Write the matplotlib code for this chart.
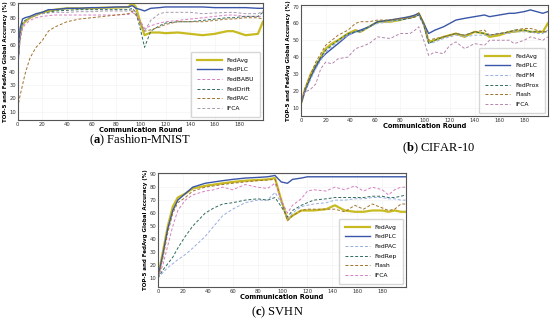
import matplotlib
matplotlib.use("Agg")
import matplotlib.pyplot as plt

plt.rcParams['font.family'] = ['DejaVu Sans']
plt.rcParams['mathtext.fontset'] = 'custom'
plt.rcParams['mathtext.rm'] = 'Liberation Serif'
plt.rcParams['mathtext.bf'] = 'Liberation Serif:bold'

# ---------------- (a) Fashion-MNIST ----------------
rounds_a = [0, 2, 4, 6, 10, 15, 20, 25, 30, 40, 50, 60, 70, 80, 90, 93, 96, 100, 103, 108,
            115, 120, 130, 140, 150, 160, 170, 175, 185, 195, 199]
fm_fedavg = [50, 68, 75, 77, 80, 82, 84, 85, 86, 87, 87, 87, 87.5, 87.5, 88, 91, 88, 75, 67, 69,
             69, 68.5, 69, 68, 67, 68, 70, 70, 67, 68, 77]
fm_fedplc = [40, 72, 79, 80, 81, 83, 84, 86, 86, 87, 87, 87.5, 87.5, 88, 88, 89, 87, 86, 85, 87,
             87.5, 88, 88, 88, 88, 87.5, 87.5, 87.5, 87.5, 87, 87]
fm_fedbabu = [45, 62, 72, 75, 78, 80, 81, 81.5, 82, 82, 82, 82, 82, 82, 82.5, 84, 82, 77, 72, 74,
              76, 77, 78, 79, 80, 81, 82, 82, 81, 81, 81]
fm_feddrift = [42, 66, 76, 78, 80, 82, 83, 84, 85, 85.5, 86, 86, 86, 86, 86, 87, 84, 70, 58, 70,
               74, 76, 77, 77, 78, 79, 80, 80, 81, 81, 84]
fm_fedpac = [13, 22, 30, 38, 50, 58, 63, 70, 73, 77, 79, 80, 81, 82, 83, 85, 82, 75, 70, 71,
             73, 75, 77, 77, 77, 78, 79, 79, 80, 80, 79]
fm_ifca = [45, 66, 74, 77, 80, 82, 83, 83.5, 84, 84, 84.5, 84.5, 85, 85, 85, 86, 84, 76, 70, 78,
           83, 84, 84, 84, 83, 83.5, 84, 84, 83, 83, 85]

# ---------------- (b) CIFAR-10 ----------------
rounds_b = [0, 3, 8, 12, 16, 20, 25, 30, 38, 44, 48, 55, 62, 72, 80, 88, 92, 95, 99, 103, 108,
            115, 120, 125, 132, 140, 148, 152, 160, 168, 172, 180, 185, 190, 195, 199]
c10_fedavg = [12, 20, 30, 35, 40, 45, 48, 50, 54, 56, 55, 58, 61, 61, 62, 64, 64, 66, 60, 49, 50,
              52, 53, 54, 52, 55, 54, 52, 53, 55, 55, 56, 55, 55, 55, 60]
c10_fedplc = [12, 19, 28, 34, 39, 42, 45, 48, 53, 55, 56, 58, 61, 62, 63, 64, 65, 66, 60, 54, 56,
              58, 60, 62, 63, 64, 65, 64, 65, 66, 66, 67, 68, 67, 66, 67]
c10_fedfm = [12, 19, 27, 33, 38, 43, 46, 49, 53, 55, 55, 58, 60, 61, 62, 63, 64, 65, 59, 48, 49,
             51, 52, 53, 52, 53, 53, 53, 54, 54, 55, 55, 55, 54, 54, 56]
c10_fedprox = [12, 20, 29, 35, 40, 44, 47, 50, 54, 55, 55, 58, 61, 62, 62, 63, 64, 65, 59, 48, 50,
               52, 53, 54, 53, 55, 54, 53, 54, 55, 56, 56, 55, 55, 55, 55]
c10_flash = [12, 21, 30, 37, 42, 47, 50, 53, 56, 60, 61, 61, 62, 62, 63, 63, 64, 66, 60, 50, 51,
             52, 53, 54, 53, 55, 56, 53, 54, 55, 56, 57, 57, 56, 55, 55]
c10_ifca = [15, 19, 21, 24, 33, 37, 36, 39, 40, 45, 46, 48, 52, 51, 54, 54, 56, 58, 50, 41, 43,
            42, 47, 49, 45, 48, 47, 50, 50, 50, 48, 50, 52, 51, 50, 52]

# ---------------- (c) SVHN ----------------
rounds_c = [0, 4, 8, 12, 16, 22, 28, 38, 45, 52, 60, 70, 80, 88, 94, 99, 104, 108, 115, 120,
            125, 135, 142, 150, 158, 165, 172, 180, 185, 190, 195, 199]
sv_fedavg = [10, 30, 50, 65, 72, 75, 79, 81, 82, 83, 84, 85, 85.5, 86, 87, 70, 55, 58, 62, 62,
             62, 63, 66, 62, 61, 61, 62, 62, 61, 62, 61, 61]
sv_fedplc = [10, 28, 48, 62, 70, 75, 80, 83, 84, 85, 86, 87, 87.5, 88, 89, 84, 83, 86, 87, 88,
             88, 88, 88, 88, 88, 88, 88, 88, 88, 88, 88, 88]
sv_fedpac = [10, 14, 18, 21, 24, 28, 33, 42, 50, 58, 63, 68, 70, 70, 76, 68, 55, 60, 65, 66,
             67, 68, 70, 70, 71, 71, 72, 72, 71, 71, 70, 70]
sv_fedrep = [10, 16, 21, 26, 33, 42, 50, 60, 64, 67, 68, 70, 71, 70, 72, 65, 57, 62, 66, 68,
             70, 71, 72, 72, 72, 72, 73, 73, 72, 72, 73, 74]
sv_flash = [10, 25, 45, 60, 68, 72, 77, 80, 81, 82, 83, 84, 85, 85.5, 86, 70, 54, 58, 62, 63,
            63, 63, 63, 61, 66, 63, 67, 64, 62, 63, 67, 67]
sv_ifca = [10, 20, 35, 50, 62, 70, 74, 77, 78, 80, 78, 82, 80, 79, 83, 70, 60, 66, 71, 77,
           78, 77, 80, 78, 81, 77, 80, 78, 74, 78, 80, 80]

YELLOW = '#c8bb22'
BLUE = '#3a56a8'
PINK = '#d67fc4'
TEAL = '#2f6b5e'
BROWN = '#a0722a'
GREY = '#a89bb0'
LIGHTBLUE = '#97aee0'
MAUVE = '#b585ae'
DASH = (0, (3, 2))


def style_axes(ax, ylim, yticks):
    ax.set_xlim(0, 199)
    ax.set_ylim(*ylim)
    ax.set_xticks(range(0, 200, 20))
    ax.set_yticks(yticks)
    ax.tick_params(labelsize=3.8, length=0, pad=1.2, colors='#333333')
    ax.grid(True, color='#f2f2f2', linewidth=0.4)
    for s in ax.spines.values():
        s.set_color('#555555')
        s.set_linewidth(0.8)
    ax.set_xlabel('Communication Round', fontsize=4.8, fontweight='bold', labelpad=0.3)
    ax.set_ylabel('TOP-5 and FedAvg Global Accuracy (%)', fontsize=4.0,
                  fontweight='bold', labelpad=1.0)
    ax.legend(loc='lower right', fontsize=4.3, handlelength=4.2, labelspacing=0.75,
              borderpad=1.0, handletextpad=0.8, frameon=True, edgecolor='#cccccc',
              fancybox=True, borderaxespad=0.5)


fig = plt.figure(figsize=(5.5, 3.25), dpi=100)

ax_a = fig.add_axes([0.032, 0.631, 0.446, 0.36])
ax_a.plot(rounds_a, fm_fedavg, color=YELLOW, lw=1.6, label='FedAvg')
ax_a.plot(rounds_a, fm_fedplc, color=BLUE, lw=1.0, label='FedPLC')
ax_a.plot(rounds_a, fm_fedbabu, color=PINK, lw=0.7, ls=DASH, label='FedBABU')
ax_a.plot(rounds_a, fm_feddrift, color=TEAL, lw=0.7, ls=DASH, label='FedDrift')
ax_a.plot(rounds_a, fm_fedpac, color=BROWN, lw=0.7, ls=DASH, label='FedPAC')
ax_a.plot(rounds_a, fm_ifca, color=GREY, lw=0.7, ls=DASH, label='IFCA')
style_axes(ax_a, (4, 91), range(10, 91, 10))

ax_b = fig.add_axes([0.547, 0.643, 0.449, 0.342])
ax_b.plot(rounds_b, c10_fedavg, color=YELLOW, lw=1.6, label='FedAvg')
ax_b.plot(rounds_b, c10_fedplc, color=BLUE, lw=1.0, label='FedPLC')
ax_b.plot(rounds_b, c10_fedfm, color=LIGHTBLUE, lw=0.7, ls=DASH, label='FedFM')
ax_b.plot(rounds_b, c10_fedprox, color=TEAL, lw=0.7, ls=DASH, label='FedProx')
ax_b.plot(rounds_b, c10_flash, color=BROWN, lw=0.7, ls=DASH, label='Flash')
ax_b.plot(rounds_b, c10_ifca, color=MAUVE, lw=0.7, ls=DASH, label='IFCA')
style_axes(ax_b, (5, 71), range(10, 71, 10))

ax_c = fig.add_axes([0.287, 0.117, 0.451, 0.351])
ax_c.plot(rounds_c, sv_fedavg, color=YELLOW, lw=1.6, label='FedAvg')
ax_c.plot(rounds_c, sv_fedplc, color=BLUE, lw=1.0, label='FedPLC')
ax_c.plot(rounds_c, sv_fedpac, color=LIGHTBLUE, lw=0.7, ls=DASH, label='FedPAC')
ax_c.plot(rounds_c, sv_fedrep, color=TEAL, lw=0.7, ls=DASH, label='FedRep')
ax_c.plot(rounds_c, sv_flash, color=BROWN, lw=0.7, ls=DASH, label='Flash')
ax_c.plot(rounds_c, sv_ifca, color=PINK, lw=0.7, ls=DASH, label='IFCA')
style_axes(ax_c, (3, 91), range(10, 91, 10))

cap = dict(fontsize=9.0, family='Liberation Serif', ha='center', va='center')
fig.text(0.255, 0.568, r'($\mathbf{a}$) Fashion-MNIST', **cap)
fig.text(0.797, 0.543, r'($\mathbf{b}$) CIFAR-10', **cap)
fig.text(0.505, 0.04, r'($\mathbf{c}$) SVHN', **cap)

fig.savefig('out.png', dpi=100)
